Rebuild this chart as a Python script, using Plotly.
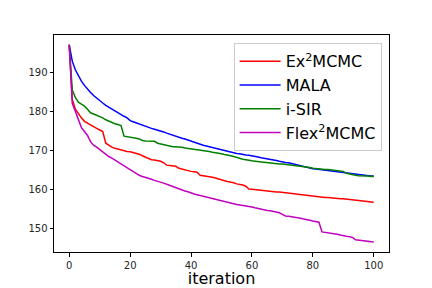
import plotly.graph_objects as go

iterations = list(range(101))

ex2mcmc = [197.0, 183.0, 180.5, 179.3, 178.3, 177.4, 176.9, 176.4, 175.9, 175.6,
           175.2, 174.8, 171.8, 171.2, 170.8, 170.5, 170.3, 170.0, 169.8, 169.7,
           169.6, 169.4, 169.2, 169.0, 168.6, 168.2, 167.9, 167.6, 167.5, 167.4,
           167.2, 166.8, 166.2, 166.1, 166.0, 165.9, 165.4, 165.2, 165.0, 164.7,
           164.6, 164.5, 164.4, 163.6, 163.5, 163.3, 163.2, 163.1, 162.9, 162.6,
           162.4, 162.2, 162.0, 161.9, 161.7, 161.4, 161.3, 161.1, 160.8, 160.1,
           160.0, 159.9, 159.9, 159.8, 159.7, 159.6, 159.5, 159.4, 159.3, 159.3,
           159.2, 159.2, 159.1, 159.0, 158.8, 158.7, 158.6, 158.5, 158.4, 158.4,
           158.3, 158.2, 158.0, 158.0, 157.9, 157.9, 157.8, 157.8, 157.7, 157.6,
           157.6, 157.5, 157.5, 157.4, 157.2, 157.1, 157.0, 157.0, 156.9, 156.8,
           156.7]

mala = [197.0, 192.8, 190.6, 189.0, 187.7, 186.6, 185.6, 184.8, 184.0, 183.3,
        182.7, 182.1, 181.5, 181.0, 180.5, 180.0, 179.5, 179.1, 178.7, 178.3,
        177.6, 177.3, 177.0, 176.7, 176.4, 176.1, 175.9, 175.6, 175.4, 175.2,
        174.9, 174.7, 174.4, 174.1, 173.9, 173.6, 173.4, 173.1, 172.9, 172.6,
        172.3, 172.1, 171.9, 171.6, 171.3, 171.1, 170.9, 170.6, 170.4, 170.2,
        170.0, 169.8, 169.7, 169.5, 169.3, 169.2, 169.1, 168.9, 168.8, 168.7,
        168.6, 168.4, 168.3, 168.1, 168.0, 167.8, 167.7, 167.5, 167.4, 167.2,
        167.0, 166.9, 166.8, 166.6, 166.4, 166.2, 166.1, 165.9, 165.7, 165.5,
        165.3, 165.2, 165.1, 165.0, 164.9, 164.8, 164.7, 164.6, 164.5, 164.4,
        164.2, 164.1, 164.0, 163.9, 163.8, 163.7, 163.6, 163.6, 163.5, 163.4,
        163.4]

isir = [197.0, 185.5, 183.5, 182.3, 181.8, 181.3, 180.5, 179.6, 179.3, 179.0,
        178.8, 178.3, 177.8, 177.4, 177.1, 176.8, 176.6, 176.3, 173.6, 173.5,
        173.4, 173.3, 173.1, 172.9, 172.5, 172.4, 172.4, 172.4, 172.3, 171.8,
        171.6, 171.4, 171.2, 171.0, 170.9, 170.9, 170.9, 170.8, 170.6, 170.5,
        170.4, 170.3, 170.2, 170.1, 170.0, 169.9, 169.7, 169.5, 169.4, 169.2,
        169.1, 168.9, 168.8, 168.6, 168.4, 168.1, 167.9, 167.7, 167.6, 167.4,
        167.3, 167.2, 167.1, 167.0, 166.9, 166.8, 166.7, 166.6, 166.6, 166.5,
        166.5, 166.4, 166.4, 166.3, 166.2, 166.1, 166.0, 165.9, 165.8, 165.6,
        165.4, 165.3, 165.2, 165.1, 165.1, 165.1, 165.0, 165.0, 164.9, 164.8,
        164.6, 164.1, 163.9, 163.8, 163.6, 163.5, 163.5, 163.4, 163.4, 163.3,
        163.3]

flex2mcmc = [197.0, 182.0, 180.0, 177.8, 175.8, 174.8, 173.8, 172.2, 171.3, 170.8,
             170.2, 169.4, 168.9, 168.4, 168.0, 167.5, 167.1, 166.6, 166.2, 165.6,
             165.0, 164.6, 164.0, 163.6, 163.3, 163.1, 162.8, 162.6, 162.3, 162.1,
             161.8, 161.6, 161.3, 161.0, 160.6, 160.3, 160.0, 159.8, 159.6, 159.4,
             159.0, 158.8, 158.6, 158.4, 158.2, 158.0, 157.8, 157.7, 157.5, 157.3,
             157.1, 156.9, 156.7, 156.5, 156.3, 156.1, 156.0, 155.9, 155.7, 155.6,
             155.5, 155.3, 155.1, 154.9, 154.7, 154.6, 154.5, 154.3, 154.1, 154.0,
             153.6, 153.2, 153.1, 153.0, 152.9, 152.8, 152.6, 152.4, 152.3, 152.1,
             151.9, 151.8, 151.6, 149.1, 149.0, 148.9, 148.8, 148.6, 148.5, 148.3,
             148.1, 148.0, 147.9, 147.7, 147.1, 147.0, 146.9, 146.8, 146.7, 146.6,
             146.5]

series_names = ["Ex<sup>2</sup>MCMC", "MALA", "i-SIR", "Flex<sup>2</sup>MCMC"]
series_values = [ex2mcmc, mala, isir, flex2mcmc]
series_colors = ["#ff0000", "#0000ff", "#008000", "#bf00bf"]

x_ticks = [0, 20, 40, 60, 80, 100]
y_ticks = [150, 160, 170, 180, 190]

fig = go.Figure()
for name, vals, col in zip(series_names, series_values, series_colors):
    fig.add_trace(go.Scatter(x=iterations, y=vals, mode="lines", name=name,
                             line=dict(color=col, width=1.5)))

axis_common = dict(showline=True, linecolor="black", linewidth=1, mirror=True,
                   showgrid=False, zeroline=False, ticks="outside", ticklen=3.5,
                   tickwidth=1, tickcolor="black",
                   tickfont=dict(family="DejaVu Sans", size=10, color="#262626"))

fig.update_layout(
    width=424, height=280,
    margin=dict(l=46, r=43, t=27, b=36),
    paper_bgcolor="white", plot_bgcolor="white",
    font=dict(family="DejaVu Sans", color="black"),
    xaxis=dict(range=[-5, 105], tickvals=x_ticks,
               title=dict(text="iteration", font=dict(size=16), standoff=13),
               automargin=False,
               **axis_common),
    yaxis=dict(range=[143.97, 199.5], tickvals=y_ticks, automargin=False,
               **axis_common),
    legend=dict(x=0.978, y=0.962, xanchor="right", yanchor="top",
                bgcolor="rgba(255,255,255,0.8)", bordercolor="#cccccc",
                borderwidth=1, font=dict(family="DejaVu Sans", size=16),
                tracegroupgap=0, itemwidth=41),
    showlegend=True,
)

fig.write_html("out.html")
